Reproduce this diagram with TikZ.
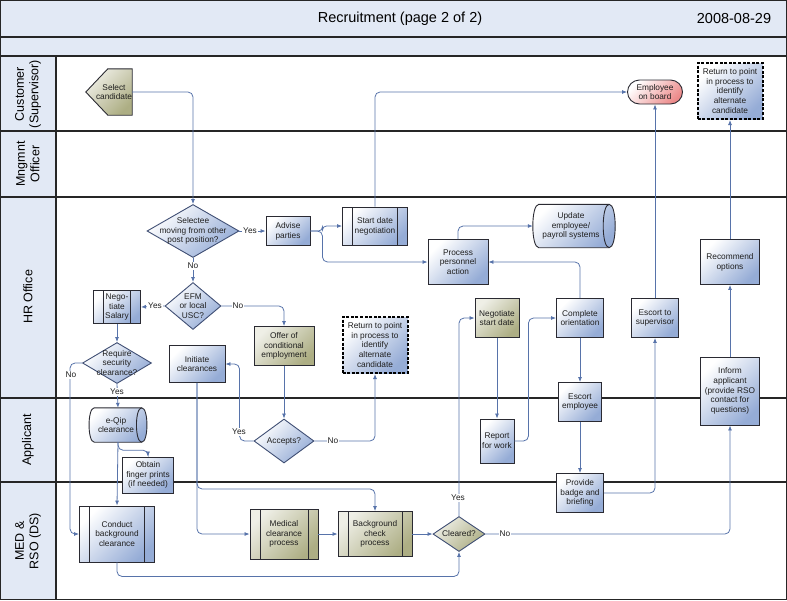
\documentclass[tikz,border=0pt]{standalone}
\usepackage{fontspec}
\setmainfont{Liberation Sans}
\usetikzlibrary{arrows.meta,shapes.geometric}
\definecolor{band}{HTML}{E2E9F5}
\definecolor{lnk}{HTML}{5773AA}
\definecolor{bluef}{HTML}{95ACD6}
\definecolor{olivef}{HTML}{ADAE84}
\definecolor{redf}{HTML}{EC8A8A}
\definecolor{edge}{HTML}{2A2A32}
\definecolor{dedge}{HTML}{404F74}
\begin{document}
\begin{tikzpicture}[x=1pt,y=-1pt,
  every node/.style={font=\fontsize{8.3}{9.8}\selectfont, text=black!88, align=center, inner sep=1pt},
  sz/.style 2 args={minimum width=#1pt, minimum height=#2pt},
  bluefill/.style={top color=white, bottom color=bluef, shading angle=45},
  olivefill/.style={top color=white!80!olivef, bottom color=olivef, shading angle=45},
  bbox/.style={rectangle, draw=edge, line width=0.9pt, bluefill},
  obox/.style={rectangle, draw=edge, line width=0.9pt, olivefill},
  subp/.style={path picture={\draw[edge,line width=0.8pt]
     ([xshift=10pt]path picture bounding box.north west) -- ([xshift=10pt]path picture bounding box.south west)
     ([xshift=-10pt]path picture bounding box.north east) -- ([xshift=-10pt]path picture bounding box.south east);}},
  dia/.style={diamond, draw=dedge, line width=0.9pt, inner sep=0pt, bluefill},
  odia/.style={diamond, draw=dedge, line width=0.9pt, inner sep=0pt, olivefill},
  cylline/.style={draw=edge, line width=0.9pt},
  retbox/.style={rectangle, draw=black, line width=2pt, dash pattern=on 3pt off 1.6pt, bluefill},
  stad/.style={rectangle, rounded corners=12pt, draw=edge, line width=0.9pt, top color=white, bottom color=redf, shading angle=45},
  arr/.style={draw=lnk, line width=0.8pt, rounded corners=5pt, -{Latex[length=5pt,width=4pt]}},
  lbl/.style={fill=white, inner sep=0.8pt},
  lane/.style={rotate=90, font=\fontsize{12.5}{14.5}\selectfont, text=black},
  sep/.style={draw=black!85, line width=1.5pt}
]
\useasboundingbox (0,0) rectangle (787,600);
% frame and lanes
\fill[band] (0,0) rectangle (787,56);
\fill[band] (0,56) rectangle (56,600);
\draw[sep] (0,37) -- (787,37);
\draw[sep] (0,56) -- (787,56);
\draw[sep] (0,131) -- (787,131);
\draw[sep] (0,197) -- (787,197);
\draw[sep] (0,398) -- (787,398);
\draw[sep] (0,482) -- (787,482);
\draw[sep] (56,56) -- (56,600);
\draw[black!85, line width=1.4pt] (0.7,0.7) rectangle (786.3,599.3);
\node[font=\fontsize{14.5}{17}\selectfont, text=black] (title) at (400,19) {Recruitment (page 2 of 2)};
\node[font=\fontsize{14.5}{17}\selectfont, text=black] (date) at (734,19) {2008-08-29};
\node[lane] (l1) at (28,94) {Customer\\(Supervisor)};
\node[lane] (l2) at (28,164) {Mngmnt\\Officer};
\node[lane] (l3) at (28,297) {HR Office};
\node[lane] (l4) at (28,440) {Applicant};
\node[lane] (l5) at (28,541) {MED \&\\RSO (DS)};

% Customer lane
\node[sz={46}{46}] (sel) at (109,92) {};
\draw[olivefill, draw=edge, line width=0.9pt] (sel.west) -- ([xshift=22pt]sel.north west) -- (sel.north east) -- (sel.south east) -- ([xshift=22pt]sel.south west) -- cycle;
\node (selt) at (114,92) {Select\\candidate};
\node[stad, sz={55}{24}] (eob) at (655,92) {Employee\\on board};
\node[retbox, sz={65}{56}] (ret2) at (730,91) {Return to point\\in process to\\identify\\alternate\\candidate};

% HR lane
\node[dia, sz={92}{53}] (sele) at (193,231) {};
\node (selet) at (193,231) {Selectee\\moving from other\\post position?};
\node[bbox, sz={44}{29}] (adv) at (288,231) {Advise\\parties};
\node[bbox, subp, sz={65}{38}] (sd) at (375,226) {Start date\\negotiation};
\node[bbox, sz={60}{45}] (ppa) at (458,262) {Process\\personnel\\action};
\node[sz={82}{43}, inner sep=0pt] (upd) at (574,226) {};
\draw[cylline, bluefill] ([xshift=6pt]upd.north west) -- ([xshift=-6pt]upd.north east)
  .. controls +(8,0) and +(8,0) .. ([xshift=-6pt]upd.south east) -- ([xshift=6pt]upd.south west)
  .. controls +(-8,0) and +(-8,0) .. ([xshift=6pt]upd.north west) -- cycle;
\draw[cylline] ([xshift=-6pt]upd.north east) .. controls +(-8,0) and +(-8,0) .. ([xshift=-6pt]upd.south east);
\node (updt) at (571,226) {Update\\employee/\\payroll systems};
\node[dia, sz={56}{47}] (efm) at (193,306) {};
\node (efmt) at (193,306) {EFM\\or local\\USC?};
\node[bbox, subp, sz={47}{33}] (neg) at (117,307) {Nego-\\tiate\\Salary};
\node[obox, sz={60}{39}] (offer) at (284,346) {Offer of\\conditional\\employment};
\node[dia, sz={69}{41}] (req) at (117,363) {};
\node (reqt) at (117,363) {Require\\security\\clearance?};
\node[bbox, sz={56}{37}] (init) at (197,364) {Initiate\\clearances};
\node[retbox, sz={65}{56}] (ret1) at (375,345) {Return to point\\in process to\\identify\\alternate\\candidate};
\node[obox, sz={44}{39}] (nsd) at (497,318) {Negotiate\\start date};
\node[bbox, sz={47}{39}] (co) at (580,318) {Complete\\orientation};
\node[bbox, sz={47}{39}] (eos) at (655,318) {Escort to\\supervisor};
\node[bbox, sz={59}{45}] (rec) at (730,262) {Recommend\\options};
\node[bbox, sz={59}{68}] (inf) at (730,391) {Inform\\applicant\\(provide RSO\\contact for\\questions)};
\node[bbox, sz={43}{39}] (ee) at (580,402) {Escort\\employee};

% Applicant lane
\node[sz={57}{34}, inner sep=0pt] (eqip) at (118,425) {};
\draw[cylline, bluefill] ([xshift=5pt]eqip.north west) -- ([xshift=-5pt]eqip.north east)
  .. controls +(7,0) and +(7,0) .. ([xshift=-5pt]eqip.south east) -- ([xshift=5pt]eqip.south west)
  .. controls +(-7,0) and +(-7,0) .. ([xshift=5pt]eqip.north west) -- cycle;
\draw[cylline] ([xshift=-5pt]eqip.north east) .. controls +(-7,0) and +(-7,0) .. ([xshift=-5pt]eqip.south east);
\node (eqipt) at (116,425) {e-Qip\\clearance};
\node[bbox, sz={51}{36}] (ofp) at (148,475) {Obtain\\finger prints\\(if needed)};
\node[dia, sz={60}{44}] (acc) at (284,441) {};
\node (acct) at (284,441) {Accepts?};
\node[bbox, sz={34}{44}] (rfw) at (497,441) {Report\\for work};

% MED lane
\node[bbox, subp, sz={75}{56}] (cbc) at (117,534) {Conduct\\background\\clearance};
\node[obox, subp, sz={68}{50}] (med) at (284,534) {Medical\\clearance\\process};
\node[obox, subp, sz={74}{45}] (bcp) at (375,534) {Background\\check\\process};
\node[odia, sz={52}{35}] (clr) at (459,534) {};
\node (clrt) at (459,534) {Cleared?};
\node[bbox, sz={47}{39}] (pb) at (580,493) {Provide\\badge and\\briefing};

% connectors
\draw[arr] (sel.east) -| (sele.north);
\draw[arr] (sele.east) -- (adv.west);
\draw[arr, rounded corners=4pt] (adv.east) -- ++(12,0) |- (sd.west);
\draw[arr] (adv.east) -- ++(12,0) |- (ppa.west);
\draw[arr] (sd.north) |- (eob.west);
\draw[arr] (ppa.north) |- (upd.west);
\draw[arr] (co.north) |- (ppa.east);
\draw[arr] (co.south) -- (ee.north);
\draw[arr] (ee.south) -- (pb.north);
\draw[arr] (pb.east) -| (eos.south);
\draw[arr] (eos.north) -- (eob.south);
\draw[arr] (nsd.south) -- (rfw.north);
\draw[arr] (rfw.east) -- ++(14,0) |- (co.west);
\draw[arr] (clr.north) |- (nsd.west);
\draw[arr] (clr.east) -| (inf.south);
\draw[arr] (inf.north) -- (rec.south);
\draw[arr] (rec.north) -- (ret2.south);
\draw[arr] (sele.south) -- (efm.north);
\draw[arr] (efm.west) -- (neg.east);
\draw[arr] (efm.east) -| (offer.north);
\draw[arr] (neg.south) -- (req.north);
\draw[arr] (req.south) -- (eqip.north);
\draw[arr] (req.west) -- ++(-12,0) |- (cbc.west);
\draw[arr] (eqip.south) -- (cbc.north);
\draw[arr] (eqip.south) -- ++(0,8) -| (ofp.north);
\draw[arr] (offer.south) -- (acc.north);
\draw[arr] (acc.west) -- ++(-14,0) |- (init.east);
\draw[arr] (acc.east) -| (ret1.south);
\draw[arr] (init.south) |- (med.west);
\draw[arr] (init.south) -- ++(0,106) -| (bcp.north);
\draw[arr] (med.east) -- (bcp.west);
\draw[arr] (bcp.east) -- (clr.west);
\draw[arr] (cbc.south) -- ++(0,14) -| (clr.south);

% connector labels
\node[lbl] (y1) at (250,231) {Yes};
\node[lbl] (n1) at (193,266) {No};
\node[lbl] (y2) at (155,306) {Yes};
\node[lbl] (n2) at (238,306) {No};
\node[lbl] (y3) at (117,392) {Yes};
\node[lbl] (n3) at (71,375) {No};
\node[lbl] (y4) at (239,432) {Yes};
\node[lbl] (n4) at (333,441) {No};
\node[lbl] (y5) at (458,498) {Yes};
\node[lbl] (n5) at (505,534) {No};
\end{tikzpicture}
\end{document}
